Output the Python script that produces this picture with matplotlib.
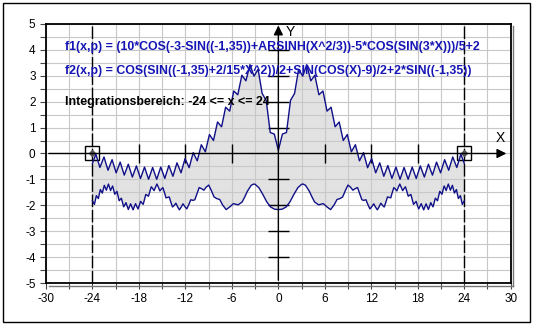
import matplotlib.pyplot as plt
from matplotlib.patches import Rectangle
from matplotlib.lines import Line2D
from matplotlib.ticker import MultipleLocator

plt.rcParams['font.family'] = ['Liberation Sans', 'DejaVu Sans']
plt.rcParams['axes.unicode_minus'] = False

# f1 (right half, the curve is symmetric about x = 0)
f1_xr = [0, 0.524, 1.047, 1.571, 2.094, 2.618, 3.142, 3.665, 4.189, 4.712,
         5.236, 5.760, 6.283, 6.807, 7.330, 7.854, 8.378, 8.901, 9.425, 9.948,
         10.472, 10.996, 11.519, 12.043, 12.566, 13.090, 13.614, 14.137, 14.661,
         15.184, 15.708, 16.232, 16.755, 17.279, 17.802, 18.326, 18.850, 19.373,
         19.897, 20.420, 20.944, 21.468, 21.991, 22.515, 23.038, 23.562, 24.0]
f1_yr = [0.125, 0.751, 0.810, 2.051, 2.319, 3.252, 2.986, 3.428, 2.807, 3.021,
         2.267, 2.413, 1.635, 1.786, 1.031, 1.216, 0.502, 0.732, 0.065, 0.339,
         -0.284, 0.033, -0.550, -0.196, -0.745, -0.361, -0.879, -0.465, -0.961,
         -0.524, -0.996, -0.540, -0.996, -0.524, -0.965, -0.480, -0.909, -0.414,
         -0.835, -0.332, -0.746, -0.238, -0.647, -0.134, -0.540, -0.024, -0.383]

# f2 (right half)
f2_xr = [0, 0.5, 1.0, 1.5, 2.0, 2.5, 3.0, 3.18, 3.5, 4.0, 4.35, 4.68, 5.2, 5.8,
         6.28, 6.74, 7.2, 7.57, 8.0, 8.31, 8.65, 8.99, 9.3, 9.62, 9.9, 10.22,
         10.5, 10.78, 11.0, 11.31, 11.55, 11.82, 12.07, 12.31, 12.57, 12.78, 13.0,
         13.23, 13.45, 13.67, 13.88, 14.09, 14.3, 14.51, 14.7, 14.91, 15.1, 15.3,
         15.49, 15.68, 15.86, 16.05, 16.23, 16.41, 16.59, 16.77, 16.94, 17.11,
         17.28, 17.45, 17.62, 17.79, 17.95, 18.12, 18.28, 18.44, 18.6, 18.76,
         18.91, 19.07, 19.22, 19.37, 19.52, 19.68, 19.82, 19.97, 20.12, 20.27,
         20.41, 20.55, 20.7, 20.84, 20.98, 21.12, 21.26, 21.4, 21.53, 21.67, 21.8,
         21.94, 22.07, 22.21, 22.34, 22.47, 22.6, 22.73, 22.86, 22.99, 23.12,
         23.24, 23.37, 23.5, 23.62, 23.75, 23.87, 24.0]
f2_yr = [-2.166, -2.149, -2.066, -1.866, -1.583, -1.327, -1.189, -1.179, -1.226,
         -1.457, -1.685, -1.873, -1.983, -1.935, -2.063, -2.166, -1.986, -1.777,
         -1.735, -1.674, -1.431, -1.219, -1.295, -1.417, -1.361, -1.314, -1.546,
         -1.783, -1.810, -1.786, -1.966, -2.139, -2.051, -1.943, -2.082, -2.174,
         -2.062, -1.919, -2.005, -2.065, -1.880, -1.677, -1.696, -1.713, -1.512,
         -1.317, -1.372, -1.445, -1.304, -1.179, -1.299, -1.434, -1.352, -1.285,
         -1.462, -1.649, -1.614, -1.580, -1.773, -1.963, -1.911, -1.848, -2.000,
         -2.141, -2.044, -1.938, -2.058, -2.175, -2.060, -1.944, -2.055, -2.161,
         -2.034, -1.898, -1.985, -2.059, -1.896, -1.725, -1.776, -1.825, -1.641,
         -1.461, -1.514, -1.573, -1.410, -1.255, -1.340, -1.431, -1.302, -1.180,
         -1.296, -1.419, -1.320, -1.229, -1.374, -1.528, -1.457, -1.392, -1.565,
         -1.739, -1.684, -1.627, -1.798, -1.966, -1.899, -1.830]

# mirror to full range
f1_x = [-v for v in f1_xr[:0:-1]] + f1_xr
f1_y = f1_yr[:0:-1] + f1_yr
f2_x = [-v for v in f2_xr[:0:-1]] + f2_xr
f2_y = f2_yr[:0:-1] + f2_yr

a, b = -24, 24  # integration bounds

label_f1 = 'f1(x,p) = (10*COS(-3-SIN((-1,35))+ARSINH(X^2/3))-5*COS(SIN(3*X)))/5+2'
label_f2 = 'f2(x,p) = COS(SIN((-1,35)+2/15*X^2))/2+SIN(COS(X)-9)/2+2*SIN((-1,35))'
label_int = 'Integrationsbereich: -24 <= x <= 24'

fig = plt.figure(figsize=(5.33, 3.24), dpi=100)
ax = fig.add_axes([0.0863, 0.1265, 0.8719, 0.7995])
ax.set_xlim(-30, 30)
ax.set_ylim(-5, 5)

# grid
ax.xaxis.set_major_locator(MultipleLocator(6))
ax.xaxis.set_minor_locator(MultipleLocator(3))
ax.yaxis.set_major_locator(MultipleLocator(1))
ax.yaxis.set_minor_locator(MultipleLocator(0.5))
ax.set_axisbelow(True)
ax.grid(which='both', color='#c8c8c8', lw=0.8)
ax.tick_params(which='both', direction='out', length=4, width=0.8, labelsize=8.5,
               color='#444444')
for s in ax.spines.values():
    s.set_linewidth(1.3)

# shaded area between curves
ax.fill(f1_x + f2_x[::-1], f1_y + f2_y[::-1], color='#e2e2e2', lw=0, zorder=0.3)

# axes through origin
ax.annotate('', xy=(29.8, 0), xytext=(-30, 0),
            arrowprops=dict(arrowstyle='-|>', color='k', lw=1, mutation_scale=14))
ax.annotate('', xy=(0, 5.05), xytext=(0, -5),
            arrowprops=dict(arrowstyle='-|>', color='k', lw=1, mutation_scale=14),
            annotation_clip=False)
ax.vlines([-18, -12, -6, 6, 12, 18], -0.38, 0.38, color='k', lw=1)
ax.hlines([-4, -3, -2, -1, 1, 2, 3, 4], -1.35, 1.35, color='k', lw=1)
ax.text(28.0, 0.45, 'X', fontsize=10)
ax.text(1.0, 4.55, 'Y', fontsize=10)

# integration bounds
for xv in (a, b):
    ax.axvline(xv, color='k', lw=1, ls=(0, (9, 2)))
ax.plot([a, b], [0, 0], 's', ms=10.5, mfc='none', mec='k', mew=1, clip_on=False)
ax.plot([a, b], [0, 0], 'D', ms=3, color='#555555')

# curves
ax.plot(f1_x, f1_y, color='#101088', lw=1)
ax.plot(f2_x, f2_y, color='#101088', lw=1)

# labels
txt_kw = dict(fontsize=8.9, fontweight='bold', va='center')
ax.text(-27.5, 4.12, label_f1, color='#1515b5', **txt_kw)
ax.text(-27.5, 3.2, label_f2, color='#1515b5', **txt_kw)
ax.text(-27.5, 1.98, label_int, color='k', **txt_kw)

# shadow lines at right and bottom of plot frame
fig.add_artist(Line2D([513 / 533, 513 / 533], [38 / 324, 1 - 26 / 324],
                      transform=fig.transFigure, color='#777777', lw=1))
fig.add_artist(Line2D([49 / 533, 513 / 533], [38 / 324, 38 / 324],
                      transform=fig.transFigure, color='#777777', lw=1))

# outer frame
fig.add_artist(Rectangle((3 / 533, 2 / 324), 527 / 533, 319 / 324,
                         transform=fig.transFigure, fill=False, ec='k', lw=1))

fig.savefig('out.png', dpi=100)
